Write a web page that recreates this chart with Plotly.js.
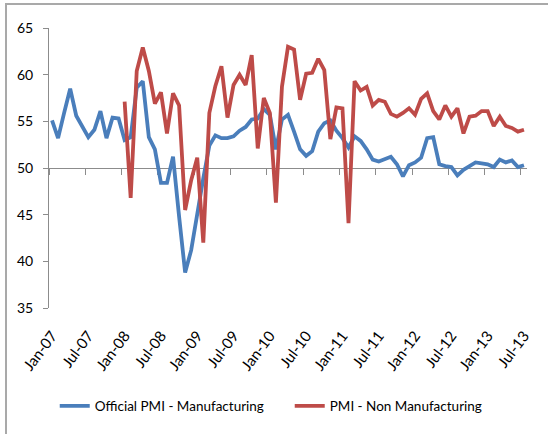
<!DOCTYPE html>
<html>
<head>
<meta charset="utf-8">
<script src="https://cdn.plot.ly/plotly-3.0.1.min.js"></script>
<style>
  html, body { margin: 0; padding: 0; background: #ffffff; }
  #wrap { position: relative; width: 548px; height: 434px; overflow: hidden; }
  #frame { position: absolute; left: 5px; top: 3px; width: 600px; height: 500px;
           border-left: 2px solid #a9a9a9; border-top: 2px solid #a9a9a9; pointer-events: none; }
  #chart { position: absolute; left: 0; top: 0; width: 548px; height: 434px; }
</style>
</head>
<body>
<div id="wrap">
  <div id="frame"></div>
  <div id="chart"></div>
</div>
<script>
// Monthly categories Jan-07 .. Jul-13
const monthNames = ['Jan','Feb','Mar','Apr','May','Jun','Jul','Aug','Sep','Oct','Nov','Dec'];
const years = ['07','08','09','10','11','12','13'];
const months = [];
years.forEach(y => monthNames.forEach(m => months.push(m + '-' + y)));
months.length = 79;

const tickLabels = ['Jan-07','Jul-07','Jan-08','Jul-08','Jan-09','Jul-09','Jan-10',
                    'Jul-10','Jan-11','Jul-11','Jan-12','Jul-12','Jan-13','Jul-13'];

// Official PMI - Manufacturing
const pmiManufacturing = [
  55.1, 53.2, 55.9, 58.5, 55.6, 54.5, 53.3, 54.1, 56.1, 53.2, 55.4, 55.3,
  53.0, 53.3, 58.6, 59.3, 53.3, 52.0, 48.4, 48.4, 51.2, 44.8, 38.8, 41.2,
  45.2, 48.9, 52.4, 53.5, 53.2, 53.2, 53.4, 54.0, 54.4, 55.2, 55.3, 56.3,
  55.7, 52.0, 55.2, 55.7, 53.9, 52.0, 51.3, 51.8, 53.9, 54.8, 55.1, 54.0,
  53.2, 52.2, 53.4, 52.9, 52.0, 50.9, 50.7, 50.9, 51.2, 50.4, 49.1, 50.3,
  50.6, 51.1, 53.2, 53.3, 50.4, 50.2, 50.1, 49.2, 49.8, 50.2, 50.6, 50.5,
  50.4, 50.1, 50.9, 50.6, 50.8, 50.1, 50.3
];

// PMI - Non Manufacturing (series begins Jan-08)
const pmiNonManufacturing = [
  null, null, null, null, null, null, null, null, null, null, null, null,
  57.1, 46.8, 60.4, 62.9, 60.4, 56.9, 58.1, 53.7, 58.0, 56.7, 45.5, 48.7,
  51.1, 42.0, 55.9, 58.8, 60.9, 55.4, 58.9, 60.0, 58.9, 62.1, 52.1, 57.5,
  55.9, 46.3, 58.7, 63.0, 62.7, 57.3, 60.1, 60.2, 61.7, 60.5, 53.1, 56.5,
  56.4, 44.1, 59.3, 58.3, 58.7, 56.7, 57.3, 57.1, 55.8, 55.5, 55.9, 56.4,
  55.7, 57.4, 58.0, 56.1, 55.2, 56.7, 55.5, 56.4, 53.7, 55.5, 55.6, 56.1,
  56.1, 54.5, 55.5, 54.5, 54.3, 53.9, 54.1
];

const idx = months.map((_, i) => i);
const labelIdx = tickLabels.map(t => months.indexOf(t));
const boundaryIdx = labelIdx.map(i => i - 0.5);

const FONT = 'Lato, "Open Sans", sans-serif';
const AXIS_GRAY = '#8c8c8c';

const traces = [
  {
    x: idx, y: pmiManufacturing, name: 'Official PMI - Manufacturing',
    type: 'scatter', mode: 'lines', xaxis: 'x', yaxis: 'y',
    line: { color: '#4a7ebb', width: 3.8 }, hoverinfo: 'skip'
  },
  {
    x: idx, y: pmiNonManufacturing, name: 'PMI - Non Manufacturing',
    type: 'scatter', mode: 'lines', xaxis: 'x2', yaxis: 'y',
    line: { color: '#be4b48', width: 3.8 }, connectgaps: false, hoverinfo: 'skip'
  }
];

const xRange = [-0.5, months.length - 0.5];

const layout = {
  width: 548, height: 434,
  margin: { l: 49, r: 21, t: 28, b: 126 },
  paper_bgcolor: 'rgba(0,0,0,0)',
  plot_bgcolor: 'rgba(0,0,0,0)',
  font: { family: FONT, size: 14, color: '#000000' },
  showlegend: true,
  legend: {
    orientation: 'h', x: 0.012, xanchor: 'left', y: -0.35, yanchor: 'middle',
    font: { family: FONT, size: 13.5, color: '#000000' },
    entrywidth: 190, entrywidthmode: 'pixels', bgcolor: 'rgba(0,0,0,0)'
  },
  // category labels along the bottom edge
  xaxis: {
    range: xRange, showgrid: false, zeroline: false, showline: false,
    tickmode: 'array', tickvals: labelIdx, ticktext: tickLabels,
    ticks: '', tickangle: -53, ticklabelstandoff: 15,
    tickfont: { family: FONT, size: 15, color: '#000000' }, fixedrange: true
  },
  // horizontal axis line crossing at 50
  xaxis2: {
    range: xRange, overlaying: 'x', anchor: 'free', position: 0.5,
    showgrid: false, zeroline: false, showline: true, linecolor: AXIS_GRAY, linewidth: 1,
    tickmode: 'array', tickvals: boundaryIdx, showticklabels: false,
    ticks: 'outside', ticklen: 6, tickcolor: AXIS_GRAY, tickwidth: 1,
    layer: 'below traces', fixedrange: true
  },
  yaxis: {
    range: [35, 65], tickmode: 'array', tickvals: [35, 40, 45, 50, 55, 60, 65],
    showgrid: false, zeroline: false, showline: true, linecolor: AXIS_GRAY, linewidth: 1,
    ticks: 'outside', ticklen: 5, tickcolor: AXIS_GRAY, tickwidth: 1,
    ticklabelstandoff: 7, layer: 'below traces',
    tickfont: { family: FONT, size: 14, color: '#000000' }, fixedrange: true
  }
};

Plotly.newPlot('chart', traces, layout, { staticPlot: true, displayModeBar: false });
</script>
</body>
</html>
